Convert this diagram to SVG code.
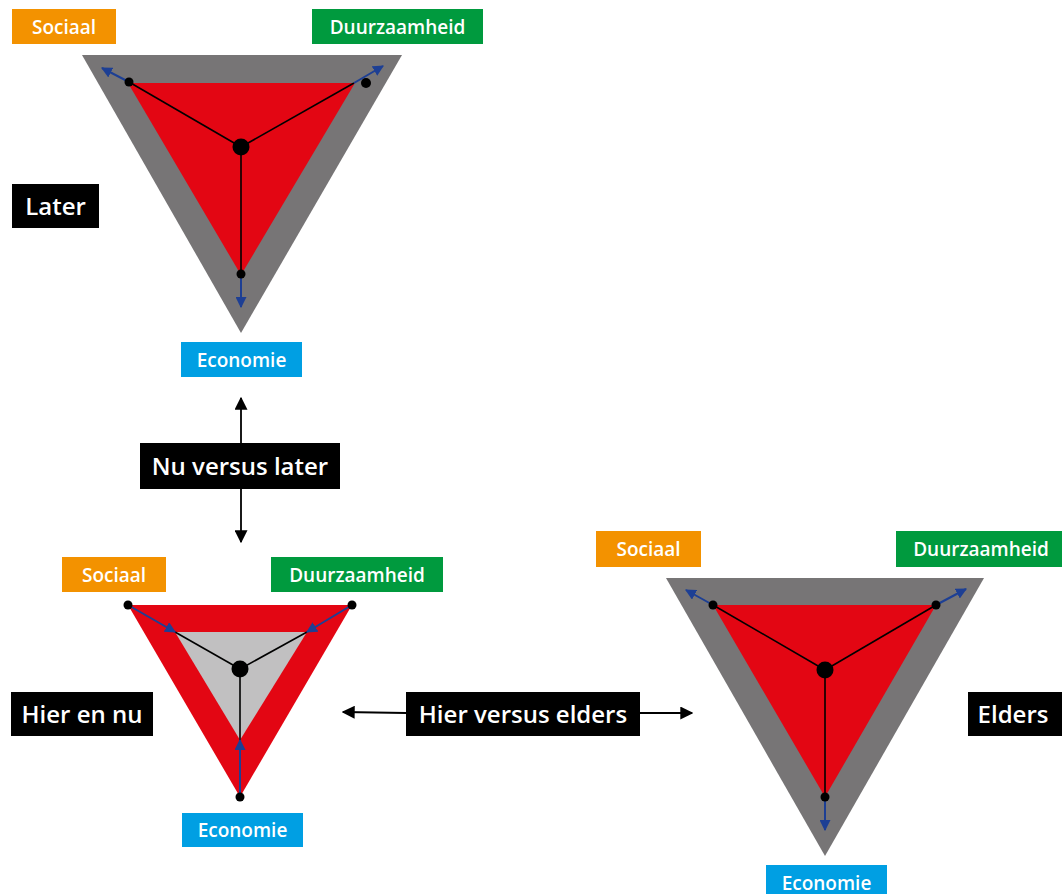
<svg xmlns="http://www.w3.org/2000/svg" width="1062" height="894" viewBox="0 0 1062 894">
<defs>
<style>
.lbl{font-family:"Open Sans","Noto Sans","Liberation Sans",sans-serif;font-weight:600;fill:#fff;text-anchor:middle}
.s{font-size:19px}
.b{font-size:24px}
.or{fill:#F39200}
.gr{fill:#009A3E}
.bl{fill:#009FE3}
.bk{fill:#000}
.outg{fill:#777576}
.red{fill:#E30613}
.lg{fill:#C1C0C1}
.ln{stroke:#000;stroke-width:1.6;fill:none}
.ba{stroke:#1D3F94;stroke-width:2;fill:none;marker-end:url(#bh)}
.ka{stroke:#000;stroke-width:1.8;fill:none;marker-end:url(#kh)}
</style>
<marker id="bh" viewBox="0 0 10 10" refX="9" refY="5" markerWidth="11" markerHeight="11" markerUnits="userSpaceOnUse" orient="auto"><path d="M0,0 L10,5 L0,10 Z" fill="#1D3F94"/></marker>
<marker id="kh" viewBox="0 0 10 10" refX="9" refY="5" markerWidth="13" markerHeight="13" markerUnits="userSpaceOnUse" orient="auto"><path d="M0,0 L10,5 L0,10 Z" fill="#000"/></marker>
</defs>
<rect width="1062" height="894" fill="#fff"/>

<g id="later-triangle">
<polygon class="outg" points="82,55 402,55 241,333"/>
<polygon class="red" points="128,83 355,83 241,275"/>
<line class="ln" x1="241" y1="147" x2="129" y2="82"/>
<line class="ln" x1="241" y1="147" x2="354" y2="83"/>
<line class="ln" x1="241" y1="147" x2="241" y2="274"/>
<line class="ba" x1="129" y1="82" x2="102" y2="68"/>
<line class="ba" x1="354" y1="83" x2="383" y2="66"/>
<line class="ba" x1="241" y1="276" x2="241" y2="307"/>
<circle cx="241" cy="147" r="8.5"/>
<circle cx="129" cy="82" r="4.5"/>
<circle cx="366" cy="83" r="5"/>
<circle cx="241" cy="274" r="4.5"/>
</g>
<g id="later-sociaal"><rect class="or" x="12" y="9" width="104" height="35"/><text class="lbl s" x="64" y="33.5">Sociaal</text></g>
<g id="later-duurzaamheid"><rect class="gr" x="312" y="9" width="171" height="35"/><text class="lbl s" x="397.5" y="33.5">Duurzaamheid</text></g>
<g id="later-label"><rect class="bk" x="12" y="184" width="87" height="44"/><text class="lbl b" x="55.5" y="214.5">Later</text></g>
<g id="later-economie"><rect class="bl" x="181" y="342" width="121" height="35"/><text class="lbl s" x="241.5" y="366.5">Economie</text></g>

<g id="nu-triangle">
<polygon class="red" points="128,605 352,605 240,797"/>
<polygon class="lg" points="175,632 307,632 240,740"/>
<line class="ln" x1="240" y1="669" x2="175" y2="632"/>
<line class="ln" x1="240" y1="669" x2="307" y2="632"/>
<line class="ln" x1="240" y1="669" x2="240" y2="740"/>
<line class="ba" x1="128" y1="605" x2="175" y2="632"/>
<line class="ba" x1="352" y1="605" x2="307" y2="632"/>
<line class="ba" x1="240" y1="797" x2="240" y2="740"/>
<circle cx="240" cy="669" r="8.5"/>
<circle cx="128" cy="605" r="4.5"/>
<circle cx="352" cy="605" r="4.5"/>
<circle cx="240" cy="797" r="4.5"/>
</g>
<g id="nu-sociaal"><rect class="or" x="62" y="557" width="104" height="35"/><text class="lbl s" x="114" y="581.5">Sociaal</text></g>
<g id="nu-duurzaamheid"><rect class="gr" x="271" y="557" width="172" height="35"/><text class="lbl s" x="357" y="581.5">Duurzaamheid</text></g>
<g id="nu-label"><rect class="bk" x="11" y="692" width="142" height="44"/><text class="lbl b" x="82" y="722.5">Hier en nu</text></g>
<g id="nu-economie"><rect class="bl" x="182" y="813" width="121" height="34"/><text class="lbl s" x="242.5" y="837">Economie</text></g>

<g id="elders-triangle">
<polygon class="outg" points="666,578 984,578 825,856"/>
<polygon class="red" points="713,605 936,605 825,797"/>
<line class="ln" x1="825" y1="670" x2="713" y2="605"/>
<line class="ln" x1="825" y1="670" x2="936" y2="605"/>
<line class="ln" x1="825" y1="670" x2="825" y2="797"/>
<line class="ba" x1="713" y1="605" x2="686" y2="590"/>
<line class="ba" x1="936" y1="605" x2="966" y2="589"/>
<line class="ba" x1="825" y1="798" x2="825" y2="830"/>
<circle cx="825" cy="670" r="8.5"/>
<circle cx="713" cy="605" r="4.5"/>
<circle cx="936" cy="605" r="4.5"/>
<circle cx="825" cy="797" r="4.5"/>
</g>
<g id="elders-sociaal"><rect class="or" x="596" y="531" width="105" height="36"/><text class="lbl s" x="648.5" y="556">Sociaal</text></g>
<g id="elders-duurzaamheid"><rect class="gr" x="896" y="531" width="170" height="36"/><text class="lbl s" x="981" y="556">Duurzaamheid</text></g>
<g id="elders-label"><rect class="bk" x="968" y="692" width="98" height="44"/><text class="lbl b" x="1013" y="722.5">Elders</text></g>
<g id="elders-economie"><rect class="bl" x="766" y="865" width="121" height="35"/><text class="lbl s" x="826.5" y="889.5">Economie</text></g>

<g id="connectors">
<line class="ka" x1="241" y1="443" x2="241" y2="398"/>
<line class="ka" x1="241" y1="489" x2="241" y2="542"/>
<line class="ka" x1="406" y1="713" x2="343" y2="712"/>
<line class="ka" x1="640" y1="713" x2="692" y2="713"/>
</g>
<g id="nu-versus-later"><rect class="bk" x="140" y="443" width="200" height="46"/><text class="lbl b" x="240" y="474.5">Nu versus later</text></g>
<g id="hier-versus-elders"><rect class="bk" x="406" y="692" width="234" height="44"/><text class="lbl b" x="523" y="722.5">Hier versus elders</text></g>
</svg>
